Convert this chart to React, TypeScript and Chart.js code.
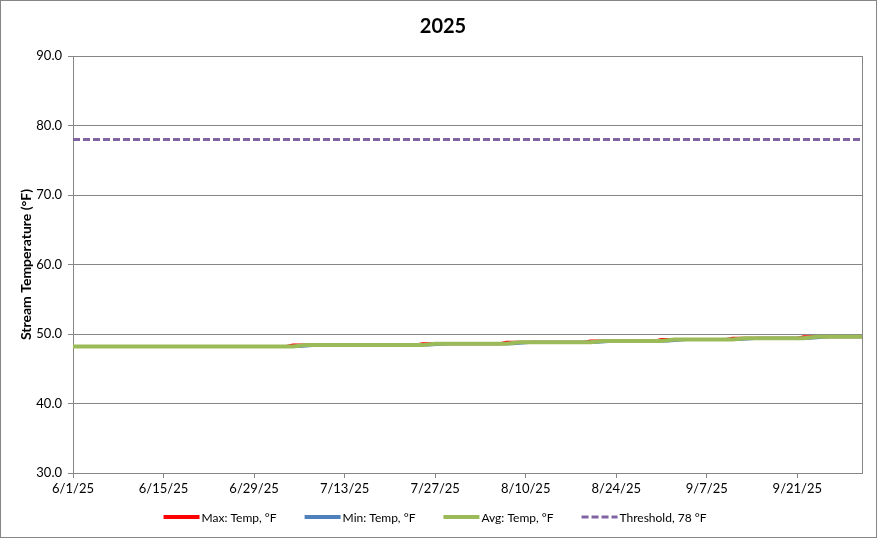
import React, { useEffect, useRef } from "react";
import { Chart, registerables } from "chart.js";

Chart.register(...registerables);

// ---------- data ----------
const CHART_TITLE = "2025";
const Y_AXIS_TITLE = "Stream Temperature (°F)";

// x axis: days since 6/1/25, range 6/1/25 .. 10/1/25
const X_TICK_LABELS = ["6/1/25", "6/15/25", "6/29/25", "7/13/25", "7/27/25", "8/10/25", "8/24/25", "9/7/25", "9/21/25"];
const X_TICK_STEP_DAYS = 14;
const X_MIN_DAY = 0;
const X_MAX_DAY = 122;

const Y_MIN = 30;
const Y_MAX = 90;
const Y_STEP = 10;

const SERIES_LABELS = ["Max: Temp, °F", "Min: Temp, °F", "Avg: Temp, °F", "Threshold, 78 °F"];

const maxDays = [0, 33, 34, 53, 54, 66, 67, 79, 80, 90, 91, 101, 102, 112, 113, 122];
const maxTemps = [48.2, 48.2, 48.4, 48.4, 48.6, 48.6, 48.8, 48.8, 49.0, 49.0, 49.2, 49.2, 49.4, 49.4, 49.6, 49.6];

const minDays = [0, 35, 38, 55, 58, 68, 71, 81, 84, 92, 95, 103, 106, 114, 117, 122];
const minTemps = [48.2, 48.2, 48.4, 48.4, 48.6, 48.6, 48.8, 48.8, 49.0, 49.0, 49.2, 49.2, 49.4, 49.4, 49.6, 49.6];

const avgDays = [0, 34, 36, 54, 56, 67, 69, 80, 82, 91, 93, 102, 104, 113, 115, 122];
const avgTemps = [48.2, 48.2, 48.4, 48.4, 48.6, 48.6, 48.8, 48.8, 49.0, 49.0, 49.2, 49.2, 49.4, 49.4, 49.6, 49.6];

const thresholdDays = [0, 122];
const thresholdTemps = [78, 78];

// ---------- styles ----------
const FONT = "Lato, 'Liberation Sans', sans-serif";
const GRID = "#868686";

const toPoints = (xs: number[], ys: number[]) => xs.map((x, i) => ({ x, y: ys[i] }));

const framePlugin = {
  id: "frame",
  beforeDraw(chart: any) {
    const { ctx, width, height } = chart;
    ctx.save();
    ctx.fillStyle = "#ffffff";
    ctx.fillRect(0, 0, width, height);
    ctx.restore();
  },
  afterDraw(chart: any) {
    const { ctx, width, height, chartArea } = chart;
    ctx.save();
    ctx.strokeStyle = GRID;
    ctx.lineWidth = 1;
    ctx.beginPath();
    ctx.moveTo(Math.round(chartArea.right) + 0.5, chartArea.top);
    ctx.lineTo(Math.round(chartArea.right) + 0.5, chartArea.bottom);
    ctx.stroke();
    ctx.strokeRect(0.5, 0.5, width - 1, height - 1);
    // title
    ctx.fillStyle = "#000";
    ctx.font = `bold 20px ${FONT}`;
    ctx.textAlign = "center";
    ctx.textBaseline = "middle";
    ctx.fillText(CHART_TITLE, 443, 27);
    ctx.restore();
  },
};

const legendPlugin = {
  id: "customLegend",
  afterDraw(chart: any) {
    const ctx = chart.ctx;
    const sample = 36;
    const textGap = 2;
    const itemGap = 28;
    const y = 517;
    ctx.save();
    ctx.font = `12px ${FONT}`;
    ctx.textBaseline = "middle";
    ctx.textAlign = "left";
    const items = chart.data.datasets.map((ds: any) => ({
      label: ds.label,
      color: ds.borderColor,
      dash: ds.borderDash || [],
      lw: ds.borderDash ? 3 : 4,
    }));
    const widths = items.map((it: any) => sample + textGap + ctx.measureText(it.label).width);
    const total = widths.reduce((a: number, b: number) => a + b, 0) + itemGap * (items.length - 1);
    let x = 435 - total / 2;
    items.forEach((it: any, i: number) => {
      ctx.strokeStyle = it.color;
      ctx.lineWidth = it.lw;
      ctx.setLineDash(it.dash);
      ctx.beginPath();
      ctx.moveTo(x, y);
      ctx.lineTo(x + sample, y);
      ctx.stroke();
      ctx.setLineDash([]);
      ctx.fillStyle = "#000";
      ctx.fillText(it.label, x + sample + textGap, y + 1);
      x += widths[i] + itemGap;
    });
    ctx.restore();
  },
};

export default function App() {
  const canvasRef = useRef<HTMLCanvasElement | null>(null);

  useEffect(() => {
    document.body.style.margin = "0";
    const canvas = canvasRef.current;
    if (!canvas) return;
    const tickFont = { family: FONT, size: 13 };
    const chart = new Chart(canvas, {
      type: "line",
      data: {
        datasets: [
          {
            label: SERIES_LABELS[0],
            data: toPoints(maxDays, maxTemps),
            borderColor: "#FF0000",
            backgroundColor: "#FF0000",
            borderWidth: 3,
            pointRadius: 0,
            order: 3,
          },
          {
            label: SERIES_LABELS[1],
            data: toPoints(minDays, minTemps),
            borderColor: "#4F81BD",
            backgroundColor: "#4F81BD",
            borderWidth: 3,
            pointRadius: 0,
            order: 2,
          },
          {
            label: SERIES_LABELS[2],
            data: toPoints(avgDays, avgTemps),
            borderColor: "#9BBB59",
            backgroundColor: "#9BBB59",
            borderWidth: 4,
            pointRadius: 0,
            order: 1,
          },
          {
            label: SERIES_LABELS[3],
            data: toPoints(thresholdDays, thresholdTemps),
            borderColor: "#8064A2",
            backgroundColor: "#8064A2",
            borderWidth: 3,
            borderDash: [7, 3],
            pointRadius: 0,
            order: 0,
          },
        ],
      },
      options: {
        responsive: false,
        animation: false,
        devicePixelRatio: 1,
        layout: { padding: { left: 0, right: 15, top: 56, bottom: 30 } },
        plugins: {
          legend: { display: false },
          tooltip: { enabled: false },
          title: { display: false },
        },
        scales: {
          x: {
            type: "linear",
            min: X_MIN_DAY,
            max: X_MAX_DAY,
            ticks: {
              stepSize: X_TICK_STEP_DAYS,
              includeBounds: false,
              autoSkip: false,
              maxRotation: 0,
              color: "#000",
              font: tickFont,
              padding: 3,
              callback: (v: any) => X_TICK_LABELS[Math.round((Number(v) - X_MIN_DAY) / X_TICK_STEP_DAYS)] ?? "",
            },
            grid: { drawOnChartArea: false, drawTicks: true, tickLength: 5, color: GRID },
            border: { color: GRID },
            afterFit: (s: any) => {
              s.height = 35;
            },
          },
          y: {
            min: Y_MIN,
            max: Y_MAX,
            ticks: {
              stepSize: Y_STEP,
              color: "#000",
              font: tickFont,
              padding: 6,
              callback: (v: any) => Number(v).toFixed(1),
            },
            grid: { color: GRID, tickLength: 5 },
            border: { color: GRID },
            title: {
              display: true,
              text: Y_AXIS_TITLE,
              color: "#000",
              font: { family: FONT, size: 14, weight: "bold" },
              padding: { top: 18, bottom: 0 },
            },
            afterFit: (s: any) => {
              s.width = 73;
            },
          },
        },
      },
      plugins: [framePlugin, legendPlugin],
    } as any);
    return () => chart.destroy();
  }, []);

  return (
    <div style={{ width: 877, height: 538 }}>
      <canvas ref={canvasRef} width={877} height={538} style={{ display: "block" }} />
    </div>
  );
}
